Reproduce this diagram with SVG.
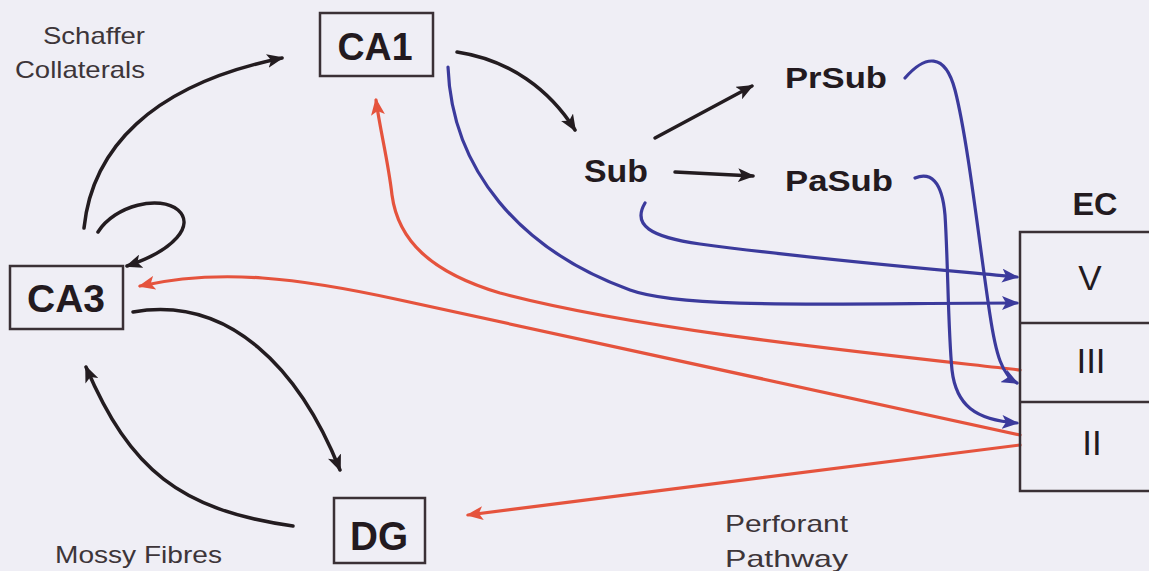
<svg xmlns="http://www.w3.org/2000/svg" width="1149" height="571" viewBox="0 0 1149 571">
<defs>
<style>
.box{fill:none;stroke:#3a3035;stroke-width:2.5}
.node{font-family:"Liberation Sans",Arial,sans-serif;font-weight:bold;fill:#231a1f;text-anchor:middle}
.layer{font-family:"Liberation Sans",Arial,sans-serif;fill:#231a1f;text-anchor:middle;font-size:35px}
.lbl{font-family:"Liberation Sans",Arial,sans-serif;fill:#3d3539;font-size:24px}
.blk{fill:none;stroke:#231c20;stroke-width:3.5;stroke-linecap:round}
.red{fill:none;stroke:#e5533d;stroke-width:3.2;stroke-linecap:round}
.blu{fill:none;stroke:#3b3a9c;stroke-width:3.2;stroke-linecap:round}
</style>
<marker id="ab" markerUnits="userSpaceOnUse" markerWidth="18" markerHeight="14" refX="15" refY="7" orient="auto" viewBox="0 0 18 14"><path d="M0,0 L17,7 L0,14 L4,7 z" fill="#231c20"/></marker>
<marker id="ar" markerUnits="userSpaceOnUse" markerWidth="18" markerHeight="14" refX="15" refY="7" orient="auto" viewBox="0 0 18 14"><path d="M0,0 L17,7 L0,14 L4,7 z" fill="#e5533d"/></marker>
<marker id="au" markerUnits="userSpaceOnUse" markerWidth="18" markerHeight="14" refX="15" refY="7" orient="auto" viewBox="0 0 18 14"><path d="M0,0 L17,7 L0,14 L4,7 z" fill="#3b3a9c"/></marker>
</defs>
<rect x="0" y="0" width="1149" height="571" fill="#efeef5"/>

<g id="connectors">
  <path class="blk" d="M84,228 C92,150 150,85 282,58" marker-end="url(#ab)"/>
  <path class="blk" d="M98,232 C115,205 160,195 178,210 C195,225 175,250 127,266" marker-end="url(#ab)"/>
  <path class="blk" d="M457,52 C510,60 550,90 575,130" marker-end="url(#ab)"/>
  <path class="blk" d="M655,138 L752,86" marker-end="url(#ab)"/>
  <path class="blk" d="M675,172 L753,176" marker-end="url(#ab)"/>
  <path class="blk" d="M133,312 C230,295 300,370 340,470" marker-end="url(#ab)"/>
  <path class="blk" d="M293,526 C180,510 130,470 86,367" marker-end="url(#ab)"/>

  <path class="red" d="M1020,370 C860,352 640,330 500,293 C430,272 398,240 392,195 C388,160 380,130 376,100" marker-end="url(#ar)"/>
  <path class="red" d="M1020,435 C780,383 560,335 400,300 C300,278 220,268 140,286" marker-end="url(#ar)"/>
  <path class="red" d="M1020,445 Q760,478 468,515" marker-end="url(#ar)"/>

  <path class="blu" d="M448,67 C452,170 520,250 630,290 C685,310 850,303 1017,303" marker-end="url(#au)"/>
  <path class="blu" d="M645,203 C632,225 650,237 700,244 C820,260 920,268 1017,277" marker-end="url(#au)"/>
  <path class="blu" d="M905,78 C925,55 945,52 955,90 C968,140 980,250 990,315 C996,355 1002,375 1017,383" marker-end="url(#au)"/>
  <path class="blu" d="M915,178 C930,172 942,180 945,215 C948,260 948,330 952,370 C956,405 975,420 1017,423" marker-end="url(#au)"/>

  <text class="lbl" x="43" y="44" textLength="102" lengthAdjust="spacingAndGlyphs">Schaffer</text>
  <text class="lbl" x="15" y="78" textLength="130" lengthAdjust="spacingAndGlyphs">Collaterals</text>
  <text class="lbl" x="55" y="563" textLength="167" lengthAdjust="spacingAndGlyphs">Mossy Fibres</text>
  <text class="lbl" x="725" y="532" textLength="123" lengthAdjust="spacingAndGlyphs">Perforant</text>
  <text class="lbl" x="725" y="567" textLength="123" lengthAdjust="spacingAndGlyphs">Pathway</text>
</g>

<g id="CA1">
  <rect class="box" x="320" y="13" width="113" height="63"/>
  <text class="node" x="375" y="60" font-size="38" textLength="75" lengthAdjust="spacingAndGlyphs">CA1</text>
</g>
<g id="CA3">
  <rect class="box" x="10" y="266" width="113" height="63"/>
  <text class="node" x="66" y="312" font-size="38" textLength="78" lengthAdjust="spacingAndGlyphs">CA3</text>
</g>
<g id="DG">
  <rect class="box" x="334" y="498" width="91" height="65"/>
  <text class="node" x="379" y="550" font-size="40" textLength="58" lengthAdjust="spacingAndGlyphs">DG</text>
</g>
<g id="Sub">
  <text class="node" x="616" y="182" font-size="32" textLength="64" lengthAdjust="spacingAndGlyphs">Sub</text>
</g>
<g id="PrSub">
  <text class="node" x="836" y="88" font-size="30" textLength="102" lengthAdjust="spacingAndGlyphs">PrSub</text>
</g>
<g id="PaSub">
  <text class="node" x="839" y="191" font-size="30" textLength="108" lengthAdjust="spacingAndGlyphs">PaSub</text>
</g>
<g id="EC">
  <text class="node" x="1095" y="215" font-size="31" textLength="45" lengthAdjust="spacingAndGlyphs">EC</text>
  <rect class="box" x="1020" y="232" width="140" height="259"/>
  <line class="box" x1="1020" y1="323" x2="1160" y2="323"/>
  <line class="box" x1="1020" y1="402" x2="1160" y2="402"/>
  <text class="layer" x="1090" y="290">V</text>
  <text class="layer" x="1091" y="373">III</text>
  <text class="layer" x="1092" y="455">II</text>
</g>
</svg>
